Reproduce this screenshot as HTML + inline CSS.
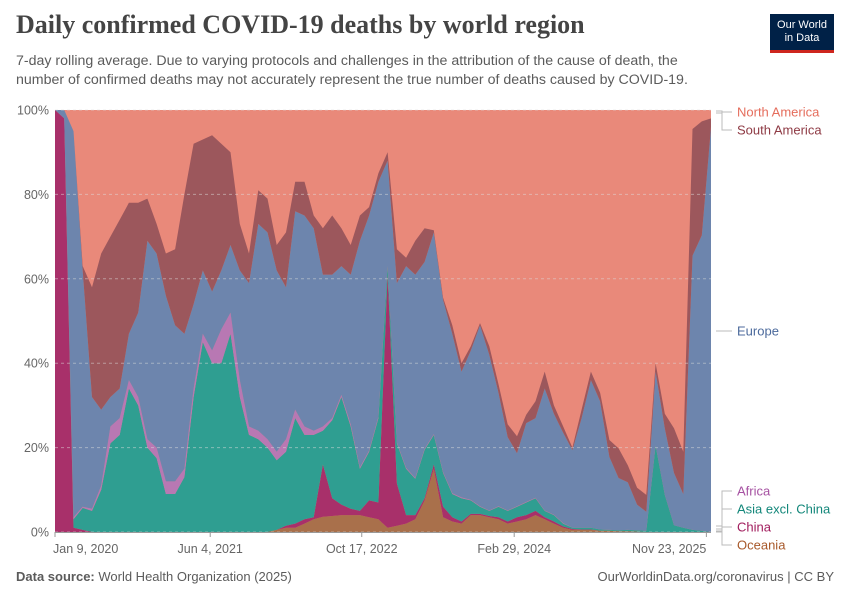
<!DOCTYPE html>
<html><head><meta charset="utf-8">
<style>
body{margin:0;background:#fff;font-family:"Liberation Sans",sans-serif;}
#wrap{position:relative;width:850px;height:600px;overflow:hidden;background:#fff;}
.t{position:absolute;white-space:nowrap;}
</style></head><body>
<div id="wrap">
<div class="t" style="left:16px;top:10px;font-family:'Liberation Serif',serif;font-size:26px;font-weight:bold;color:#444;">Daily confirmed COVID-19 deaths by world region</div>
<div class="t" style="left:16px;top:52px;font-size:14.2px;line-height:19px;color:#5b5b5b;white-space:normal;width:705px;">7-day rolling average. Due to varying protocols and challenges in the attribution of the cause of death, the number of confirmed deaths may not accurately represent the true number of deaths caused by COVID-19.</div>
<div style="position:absolute;left:770px;top:14px;width:64px;background:#002147;border-bottom:3px solid #ce261e;color:#fff;font-size:11px;line-height:13px;text-align:center;padding-top:5px;box-sizing:border-box;height:39px;">Our World<br>in Data</div>
<svg id="chart" width="850" height="600" style="position:absolute;left:0;top:0;" xmlns="http://www.w3.org/2000/svg"></svg>
<div class="t" style="left:16px;top:569px;font-size:13px;color:#5b5b5b;"><b>Data source:</b> World Health Organization (2025)</div>
<div class="t" style="right:16px;top:569px;font-size:13px;color:#5b5b5b;">OurWorldinData.org/coronavirus | CC BY</div>
</div>
<script>
const tickLabels=["Jan 9, 2020","Jun 4, 2021","Oct 17, 2022","Feb 29, 2024","Nov 23, 2025"];
const tickMonths=[0,16.8,33.2,49.7,70.5];
const yTicks=[0,20,40,60,80,100];
const seriesNames=["Oceania","China","Asia excl. China","Africa","Europe","South America","North America"];
const oceania=[0,0,0,0,0,0,0,0,0,0,0,0,0,0,0,0,0,0,0,0,0,0,0,0,0.5,1,1,2,3,3.6,3.8,4,4,4,3.5,3,1,1.5,2,3,7.5,15,3.5,2.5,2,4,4,3.5,3,2,2.5,3,4,3,2,1,0.5,0.5,0.5,0.3,0.3,0.2,0.2,0.1,0,0,0,0,0,0,0,0];
const china=[100,98,1,0.5,0,0,0,0,0,0,0,0,0,0,0,0,0,0,0,0,0,0,0,0,0,0.5,1,1,0.5,12.4,4.2,2.5,1.5,1,4,4,60,10,2,1,0.5,1,2.5,1,0.5,0.3,0.3,0.3,0.5,0.5,1,1,1,0.5,0.5,0.3,0.2,0.1,0.1,0,0,0,0,0,0,0,0,0,0,0,0,0];
const asia=[0,0,2,5.2,5,10,21,23,34,30,20,17.5,9,9,13,32,45,40,40,47,32,23,22,20,16.5,17.5,25,20,19.5,8,18.5,25.5,19.5,10,11.5,20,2,9.5,11,8.6,11.5,7,8,5.5,5.5,3.2,1.7,1.2,2.5,2.5,2.5,3,3,1.5,1.5,0.7,0.3,0.4,0.4,0.3,0.2,0.2,0.3,0.3,0.3,20.5,8.8,1.6,1,0.5,0.3,0];
const africa=[0,0,0.5,0.3,0.5,1,4,4,2,2,2,2.5,3,3,2,2,2,3,8,5,4,2,2,2,2,3,2,2,1,1,0.5,0.5,0.5,0.3,0.3,0.3,0,0.2,0.2,0.2,0.2,0.2,0.2,0.2,0.2,0.1,0.1,0.1,0.1,0.1,0.1,0.1,0.1,0.1,0.1,0.1,0,0,0,0,0,0,0,0,0,0,0,0,0,0,0,0];
const europe=[0,2,91.5,56,26.5,18,7,7,11,20,47,46,44,37,32,20,15,14,14,16,26,34,49,49,43,36,47,50,48,36,34,30.5,35.5,53.7,55.7,55.7,25,37.8,47.8,48.2,44.3,47.8,40.8,37.8,29.8,35.4,42.9,36.9,26.9,17.4,12.6,18.7,18.9,28.9,23.9,21.4,18.4,26,35,30.4,17.3,12.4,11.3,6.1,4.5,17.5,15.8,12.4,8,65,70,96];
const southAmerica=[0,0,0,1,26,37,38,40,31,26,10,7,10,18,33,38,31,37,30,22,11,7,8,8,6,13,7,8,3,11,14,9,7,6,2,2,2,8,2,8,8,0.5,0.5,2,2,1,0.5,2,2,3,4,2,4,4,2,1.5,0.6,2,2,2,4,7,4,4,4,2,3.4,10.6,10,30,27,2];
const series=[oceania,china,asia,africa,europe,southAmerica];
const colors=["#a9704b","#a8306a","#2f9e91","#b878b3","#6d85ad","#9c575c","#e9897a"];
const X0=55,X1=711,Y0=532,Y1=110,NM=71;
const xs=m=>X0+(X1-X0)*m/NM;
const ys=v=>Y0-(Y0-Y1)*v/100;
const svg=document.getElementById('chart');
const NS="http://www.w3.org/2000/svg";
function mk(tag,attrs){const e=document.createElementNS(NS,tag);for(const k in attrs)e.setAttribute(k,attrs[k]);svg.appendChild(e);return e;}
const bg=mk('rect',{x:X0,y:Y1,width:X1-X0,height:Y0-Y1,fill:colors[6]});


const n=europe.length;
let lower=new Array(n).fill(0);
for(let s=0;s<series.length;s++){
  const upper=lower.map((l,i)=>Math.min(100,l+series[s][i]));
  let pts=[];
  for(let i=0;i<n;i++)pts.push(xs(i).toFixed(1)+","+ys(upper[i]).toFixed(1));
  for(let i=n-1;i>=0;i--)pts.push(xs(i).toFixed(1)+","+ys(lower[i]).toFixed(1));
  const p=mk('polygon',{points:pts.join(" "),fill:colors[s]});
  
  
  lower=upper;
}
yTicks.forEach(v=>{
  const g=mk('line',{x1:X0,x2:X1,y1:ys(v),y2:ys(v),stroke:'#ddd','stroke-dasharray':'3,3','stroke-opacity':0.5});
  
  
  const t=mk('text',{x:49,y:ys(v)+4.5,'text-anchor':'end','font-size':12.5,fill:'#666','font-family':'Liberation Sans, sans-serif'});
  t.textContent=v+"%";
  
  
});
mk('line',{x1:X0,x2:X1,y1:Y0+0.5,y2:Y0+0.5,stroke:'#999'});
tickLabels.forEach((lab,i)=>{
  const x=xs(tickMonths[i]);
  mk('line',{x1:x,x2:x,y1:Y0,y2:Y0+5,stroke:'#999'});
  const anchor=i===0?'start':(i===tickLabels.length-1?'end':'middle');
  const t=mk('text',{x:i===0?x-2:x,y:553,'text-anchor':anchor,'font-size':12.5,fill:'#666','font-family':'Liberation Sans, sans-serif'});
  t.textContent=lab;
  
  
});
const legend=[["North America",112,111,"#e56d5c"],["South America",130,113,"#8e3a44"],["Europe",331,331,"#4c6a9c"],["Africa",491,526,"#a652a2"],["Asia excl. China",509,529,"#13877a"],["China",527,531,"#a11d5d"],["Oceania",545,532,"#a8592a"]];
legend.forEach(([name,ly,ay,c])=>{
  const l=mk('polyline',{points:`716,${ay} 722,${ay} 722,${ly} 732,${ly}`,fill:'none',stroke:'#bbb','stroke-width':1});
  
  
  const t=mk('text',{x:737,y:ly+4.5,'font-size':13,fill:c,'font-family':'Liberation Sans, sans-serif'});
  t.textContent=name;
  
  
});
</script>
</body></html>
